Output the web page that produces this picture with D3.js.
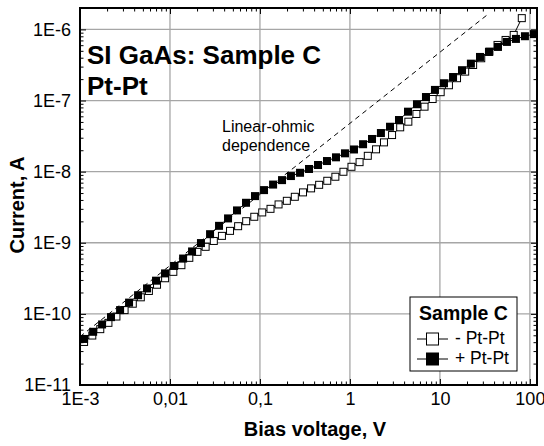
<!DOCTYPE html>
<html>
<head>
<meta charset="utf-8">
<script src="https://cdn.jsdelivr.net/npm/d3@7"></script>
<style>
  body { margin: 0; background: #fff; }
  svg { font-family: "Liberation Sans", Arial, sans-serif; }
</style>
</head>
<body>
<svg id="chart"></svg>
<script>
// Bias voltage (V) and current (A), "+ Pt-Pt" series (filled squares)
const plusV = [0.00111, 0.00140, 0.00176, 0.00221, 0.00279, 0.00351, 0.00442, 0.00556, 0.00700, 0.00881,
  0.0111, 0.0140, 0.0176, 0.0221, 0.0279, 0.0351, 0.0442, 0.0556, 0.0700, 0.0881,
  0.111, 0.140, 0.176, 0.221, 0.279, 0.351, 0.442, 0.556, 0.700, 0.881,
  1.11, 1.40, 1.76, 2.21, 2.79, 3.51, 4.42, 5.56, 7.00, 8.81,
  11.1, 14.0, 17.6, 22.1, 27.9, 35.1, 44.2, 55.6, 70.0, 88.1, 111];
const plusI = [4.44e-11, 5.6e-11, 7.1e-11, 9.0e-11, 1.13e-10, 1.44e-10, 1.83e-10, 2.28e-10, 2.93e-10, 3.71e-10,
  4.72e-10, 6.0e-10, 7.55e-10, 9.9e-10, 1.32e-9, 1.73e-9, 2.20e-9, 2.85e-9, 3.65e-9, 4.53e-9,
  5.5e-9, 6.58e-9, 7.6e-9, 8.67e-9, 9.64e-9, 1.09e-8, 1.24e-8, 1.41e-8, 1.59e-8, 1.81e-8,
  2.05e-8, 2.43e-8, 2.88e-8, 3.49e-8, 4.28e-8, 5.32e-8, 6.97e-8, 8.87e-8, 1.12e-7, 1.41e-7,
  1.75e-7, 2.14e-7, 2.67e-7, 3.30e-7, 4.10e-7, 4.82e-7, 5.67e-7, 6.67e-7, 7.35e-7, 8.02e-7, 8.59e-7];

// "- Pt-Pt" series (open squares)
const minusV = [0.00111, 0.00137, 0.00168, 0.00207, 0.00254, 0.00313, 0.00386, 0.00474, 0.00583, 0.00718,
  0.00883, 0.0109, 0.0134, 0.0164, 0.0202, 0.0249, 0.0307, 0.0378, 0.0465, 0.0572,
  0.0703, 0.0865, 0.106, 0.131, 0.161, 0.199, 0.244, 0.301, 0.370, 0.455,
  0.560, 0.689, 0.847, 1.04, 1.28, 1.58, 1.95, 2.39, 2.94, 3.62,
  4.46, 5.48, 6.75, 8.30, 10.2, 12.6, 15.5, 19.1, 23.4, 28.8,
  35.5, 43.7, 53.7, 66.1, 81.3];
const minusI = [4.03e-11, 4.96e-11, 6.10e-11, 7.48e-11, 9.18e-11, 1.13e-10, 1.39e-10, 1.71e-10, 2.10e-10, 2.57e-10,
  3.17e-10, 3.90e-10, 4.84e-10, 6.14e-10, 7.45e-10, 8.77e-10, 1.06e-9, 1.25e-9, 1.47e-9, 1.71e-9,
  2.01e-9, 2.32e-9, 2.67e-9, 3.00e-9, 3.46e-9, 3.89e-9, 4.43e-9, 5.11e-9, 5.82e-9, 6.53e-9,
  7.44e-9, 8.48e-9, 9.96e-9, 1.17e-8, 1.36e-8, 1.67e-8, 2.06e-8, 2.58e-8, 3.27e-8, 4.20e-8,
  5.04e-8, 6.47e-8, 8.19e-8, 1.05e-7, 1.31e-7, 1.64e-7, 2.06e-7, 2.55e-7, 3.16e-7, 3.93e-7,
  4.87e-7, 6.05e-7, 7.11e-7, 8.37e-7, 1.44e-6];

// Linear-ohmic dependence (dashed guide)
const ohmicV = [0.001, 35];
const ohmicI = [4.78e-11, 1.67e-6];

// Ticks
const xTicks = [0.001, 0.01, 0.1, 1, 10, 100];
const xTickLabels = ["1E-3", "0,01", "0,1", "1", "10", "100"];
const yTicks = [1e-11, 1e-10, 1e-9, 1e-8, 1e-7, 1e-6];
const yTickLabels = ["1E-11", "1E-10", "1E-9", "1E-8", "1E-7", "1E-6"];

const width = 544;
const height = 446;
const plotLeft = 80, plotRight = 537, plotTop = 8, plotBottom = 385;

const svg = d3.select("#chart")
  .attr("width", width)
  .attr("height", height);

const x = d3.scaleLog().domain([1e-3, 120]).range([plotLeft, plotRight]);
const y = d3.scaleLog().domain([1e-11, 2e-6]).range([plotBottom, plotTop]);

const isMajor = v => Math.abs(Math.log10(v) - Math.round(Math.log10(v))) < 1e-6;
const xMinor = x.ticks().filter(v => !isMajor(v));
const yMinor = y.ticks().filter(v => !isMajor(v));

// Grid lines at every decade
svg.append("g")
  .selectAll("line")
  .data(xTicks.slice(1))
  .enter().append("line")
  .attr("x1", d => x(d)).attr("x2", d => x(d))
  .attr("y1", plotTop).attr("y2", plotBottom)
  .attr("stroke", "#a6a6a6").attr("stroke-width", 1.3);

svg.append("g")
  .selectAll("line")
  .data(yTicks.slice(1))
  .enter().append("line")
  .attr("x1", plotLeft).attr("x2", plotRight)
  .attr("y1", d => y(d)).attr("y2", d => y(d))
  .attr("stroke", "#a6a6a6").attr("stroke-width", 1.3);

// Ohmic guide line
const ohmic = ohmicV.map((v, i) => [v, ohmicI[i]]);
svg.append("path")
  .datum(ohmic)
  .attr("d", d3.line().x(d => x(d[0])).y(d => y(d[1])))
  .attr("fill", "none")
  .attr("stroke", "#000")
  .attr("stroke-width", 1)
  .attr("stroke-dasharray", "5,4");

const minus = minusV.map((v, i) => [v, minusI[i]]);
const plus = plusV.map((v, i) => [v, plusI[i]]);
const line = d3.line().x(d => x(d[0])).y(d => y(d[1]));
const sq = 7;

// "- Pt-Pt": open squares
svg.append("path")
  .datum(minus)
  .attr("d", line)
  .attr("fill", "none")
  .attr("stroke", "#000")
  .attr("stroke-width", 1);

svg.append("g")
  .selectAll("rect")
  .data(minus)
  .enter().append("rect")
  .attr("x", d => x(d[0]) - sq / 2)
  .attr("y", d => y(d[1]) - sq / 2)
  .attr("width", sq).attr("height", sq)
  .attr("fill", "#fff")
  .attr("stroke", "#000")
  .attr("stroke-width", 1);

// "+ Pt-Pt": filled squares
svg.append("path")
  .datum(plus)
  .attr("d", line)
  .attr("fill", "none")
  .attr("stroke", "#000")
  .attr("stroke-width", 1);

svg.append("g")
  .selectAll("rect")
  .data(plus)
  .enter().append("rect")
  .attr("x", d => x(d[0]) - (sq + 1) / 2)
  .attr("y", d => y(d[1]) - (sq + 1) / 2)
  .attr("width", sq + 1).attr("height", sq + 1)
  .attr("fill", "#000");

// Axes (ticks pointing inward on all four sides)
function styleAxis(g, fontSize) {
  g.select(".domain").remove();
  g.selectAll(".tick line").attr("stroke", "#000").attr("stroke-width", 1);
  g.attr("font-family", null)
    .attr("font-size", fontSize);
  g.selectAll("text").attr("fill", "#000");
}

const fmtX = (d, i) => xTickLabels[i];
const fmtY = (d, i) => yTickLabels[i];

svg.append("g").attr("transform", `translate(0,${plotBottom})`)
  .call(d3.axisBottom(x).tickValues(xTicks).tickFormat(fmtX).tickSizeInner(-6).tickSizeOuter(0).tickPadding(7))
  .call(g => styleAxis(g, 18));
svg.append("g").attr("transform", `translate(0,${plotBottom})`)
  .call(d3.axisBottom(x).tickValues(xMinor).tickFormat("").tickSizeInner(-3.5).tickSizeOuter(0))
  .call(g => styleAxis(g, 18));
svg.append("g").attr("transform", `translate(0,${plotTop})`)
  .call(d3.axisTop(x).tickValues(xTicks).tickFormat("").tickSizeInner(-6).tickSizeOuter(0))
  .call(g => styleAxis(g, 18));
svg.append("g").attr("transform", `translate(0,${plotTop})`)
  .call(d3.axisTop(x).tickValues(xMinor).tickFormat("").tickSizeInner(-3.5).tickSizeOuter(0))
  .call(g => styleAxis(g, 18));

svg.append("g").attr("transform", `translate(${plotLeft},0)`)
  .call(d3.axisLeft(y).tickValues(yTicks).tickFormat(fmtY).tickSizeInner(-6).tickSizeOuter(0).tickPadding(9))
  .call(g => styleAxis(g, 18));
svg.append("g").attr("transform", `translate(${plotLeft},0)`)
  .call(d3.axisLeft(y).tickValues(yMinor).tickFormat("").tickSizeInner(-3.5).tickSizeOuter(0))
  .call(g => styleAxis(g, 18));
svg.append("g").attr("transform", `translate(${plotRight},0)`)
  .call(d3.axisRight(y).tickValues(yTicks).tickFormat("").tickSizeInner(-6).tickSizeOuter(0))
  .call(g => styleAxis(g, 18));
svg.append("g").attr("transform", `translate(${plotRight},0)`)
  .call(d3.axisRight(y).tickValues(yMinor).tickFormat("").tickSizeInner(-3.5).tickSizeOuter(0))
  .call(g => styleAxis(g, 18));

// Frame
svg.append("rect")
  .attr("x", plotLeft).attr("y", plotTop)
  .attr("width", plotRight - plotLeft).attr("height", plotBottom - plotTop)
  .attr("fill", "none")
  .attr("stroke", "#000")
  .attr("stroke-width", 2);

// Axis titles
svg.append("text")
  .attr("x", 315).attr("y", 436)
  .attr("text-anchor", "middle")
  .attr("font-size", 20).attr("font-weight", "bold")
  .text("Bias voltage, V");

svg.append("text")
  .attr("transform", "translate(24,205) rotate(-90)")
  .attr("text-anchor", "middle")
  .attr("font-size", 20).attr("font-weight", "bold")
  .text("Current, A");

// Title inside the plot
svg.append("text")
  .attr("x", 87).attr("y", 63.5)
  .attr("font-size", 26).attr("font-weight", "bold")
  .text("SI GaAs: Sample C");
svg.append("text")
  .attr("x", 87).attr("y", 95)
  .attr("font-size", 26).attr("font-weight", "bold")
  .text("Pt-Pt");

// Annotation
svg.append("text")
  .attr("x", 222).attr("y", 132)
  .attr("font-size", 16)
  .text("Linear-ohmic");
svg.append("text")
  .attr("x", 222).attr("y", 151)
  .attr("font-size", 16)
  .text("dependence");

// Legend
const legend = svg.append("g");
legend.append("rect")
  .attr("x", 410).attr("y", 297)
  .attr("width", 107).attr("height", 74)
  .attr("fill", "#fff")
  .attr("stroke", "#000")
  .attr("stroke-width", 1);
legend.append("text")
  .attr("x", 463.5).attr("y", 320)
  .attr("text-anchor", "middle")
  .attr("font-size", 19.5).attr("font-weight", "bold")
  .text("Sample C");

const legendItems = [
  { label: "- Pt-Pt", fill: "#fff", cy: 339 },
  { label: "+ Pt-Pt", fill: "#000", cy: 359 }
];
legendItems.forEach(item => {
  legend.append("line")
    .attr("x1", 417).attr("x2", 448)
    .attr("y1", item.cy).attr("y2", item.cy)
    .attr("stroke", "#000").attr("stroke-width", 1);
  legend.append("rect")
    .attr("x", 432.5 - 6).attr("y", item.cy - 6)
    .attr("width", 12).attr("height", 12)
    .attr("fill", item.fill)
    .attr("stroke", "#000").attr("stroke-width", 1);
  legend.append("text")
    .attr("x", 455).attr("y", item.cy + 5)
    .attr("font-size", 17.5)
    .text(item.label);
});
</script>
</body>
</html>
